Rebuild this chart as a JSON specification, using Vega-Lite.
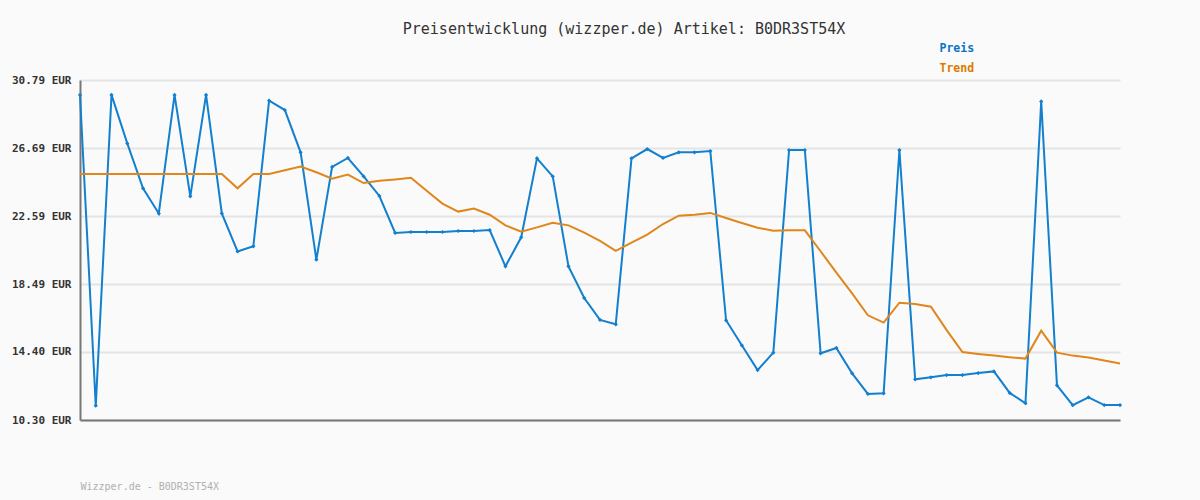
{
  "$schema": "https://vega.github.io/schema/vega-lite/v6.json",
  "width": 1040,
  "height": 340,
  "autosize": "none",
  "padding": {"left": 80, "top": 80, "right": 80, "bottom": 80},
  "background": "#fafafa",
  "title": {
    "text": "Preisentwicklung (wizzper.de) Artikel: B0DR3ST54X",
    "font": "DejaVu Sans Mono",
    "fontSize": 15,
    "fontWeight": "normal",
    "color": "#333333",
    "anchor": "middle",
    "frame": "group",
    "dx": 24,
    "offset": 6
  },
  "config": {
    "view": {"stroke": null},
    "font": "DejaVu Sans Mono"
  },
  "data": {
    "values": [
      {"i": 0, "Preis": 29.89, "Trend": 25.13},
      {"i": 1, "Preis": 11.16, "Trend": 25.13},
      {"i": 2, "Preis": 29.89, "Trend": 25.13},
      {"i": 3, "Preis": 26.97, "Trend": 25.13},
      {"i": 4, "Preis": 24.26, "Trend": 25.13},
      {"i": 5, "Preis": 22.75, "Trend": 25.13},
      {"i": 6, "Preis": 29.89, "Trend": 25.13},
      {"i": 7, "Preis": 23.78, "Trend": 25.13},
      {"i": 8, "Preis": 29.89, "Trend": 25.13},
      {"i": 9, "Preis": 22.75, "Trend": 25.13},
      {"i": 10, "Preis": 20.46, "Trend": 24.26},
      {"i": 11, "Preis": 20.77, "Trend": 25.13},
      {"i": 12, "Preis": 29.54, "Trend": 25.13},
      {"i": 13, "Preis": 28.98, "Trend": 25.35},
      {"i": 14, "Preis": 26.43, "Trend": 25.57},
      {"i": 15, "Preis": 19.96, "Trend": 25.23},
      {"i": 16, "Preis": 25.55, "Trend": 24.84},
      {"i": 17, "Preis": 26.09, "Trend": 25.09},
      {"i": 18, "Preis": 24.98, "Trend": 24.58},
      {"i": 19, "Preis": 23.80, "Trend": 24.72},
      {"i": 20, "Preis": 21.57, "Trend": 24.80},
      {"i": 21, "Preis": 21.63, "Trend": 24.90},
      {"i": 22, "Preis": 21.63, "Trend": 24.12},
      {"i": 23, "Preis": 21.63, "Trend": 23.34},
      {"i": 24, "Preis": 21.69, "Trend": 22.86},
      {"i": 25, "Preis": 21.69, "Trend": 23.04},
      {"i": 26, "Preis": 21.75, "Trend": 22.67},
      {"i": 27, "Preis": 19.56, "Trend": 22.03},
      {"i": 28, "Preis": 21.31, "Trend": 21.65},
      {"i": 29, "Preis": 26.07, "Trend": 21.91},
      {"i": 30, "Preis": 24.98, "Trend": 22.19},
      {"i": 31, "Preis": 19.56, "Trend": 22.03},
      {"i": 32, "Preis": 17.65, "Trend": 21.59},
      {"i": 33, "Preis": 16.33, "Trend": 21.09},
      {"i": 34, "Preis": 16.07, "Trend": 20.49},
      {"i": 35, "Preis": 26.07, "Trend": 20.99},
      {"i": 36, "Preis": 26.63, "Trend": 21.47},
      {"i": 37, "Preis": 26.09, "Trend": 22.11},
      {"i": 38, "Preis": 26.43, "Trend": 22.61},
      {"i": 39, "Preis": 26.43, "Trend": 22.67},
      {"i": 40, "Preis": 26.51, "Trend": 22.78},
      {"i": 41, "Preis": 16.31, "Trend": 22.47},
      {"i": 42, "Preis": 14.80, "Trend": 22.17},
      {"i": 43, "Preis": 13.31, "Trend": 21.89},
      {"i": 44, "Preis": 14.36, "Trend": 21.71},
      {"i": 45, "Preis": 26.57, "Trend": 21.73},
      {"i": 46, "Preis": 26.57, "Trend": 21.73},
      {"i": 47, "Preis": 14.32, "Trend": 20.47},
      {"i": 48, "Preis": 14.64, "Trend": 19.18},
      {"i": 49, "Preis": 13.11, "Trend": 17.93},
      {"i": 50, "Preis": 11.87, "Trend": 16.61},
      {"i": 51, "Preis": 11.91, "Trend": 16.17},
      {"i": 52, "Preis": 26.57, "Trend": 17.37},
      {"i": 53, "Preis": 12.75, "Trend": 17.29},
      {"i": 54, "Preis": 12.87, "Trend": 17.13},
      {"i": 55, "Preis": 13.01, "Trend": 15.72},
      {"i": 56, "Preis": 13.01, "Trend": 14.40},
      {"i": 57, "Preis": 13.13, "Trend": 14.28},
      {"i": 58, "Preis": 13.23, "Trend": 14.18},
      {"i": 59, "Preis": 11.93, "Trend": 14.08},
      {"i": 60, "Preis": 11.31, "Trend": 14.00},
      {"i": 61, "Preis": 29.50, "Trend": 15.68},
      {"i": 62, "Preis": 12.39, "Trend": 14.36},
      {"i": 63, "Preis": 11.19, "Trend": 14.18},
      {"i": 64, "Preis": 11.67, "Trend": 14.06},
      {"i": 65, "Preis": 11.20, "Trend": 13.88},
      {"i": 66, "Preis": 11.20, "Trend": 13.70}
    ]
  },
  "transform": [
    {"fold": ["Preis", "Trend"], "as": ["series", "value"]}
  ],
  "encoding": {
    "x": {
      "field": "i",
      "type": "quantitative",
      "scale": {"domain": [0, 66], "nice": false, "zero": false},
      "axis": {
        "title": "Wizzper.de - B0DR3ST54X",
        "titleFont": "DejaVu Sans Mono",
        "titleFontSize": 10,
        "titleFontWeight": "normal",
        "titleColor": "#b0b0b0",
        "titleAnchor": "start",
        "titleAlign": "left",
        "titlePadding": 61,
        "labels": false,
        "ticks": false,
        "grid": false,
        "domainColor": "#777777",
        "domainWidth": 2
      }
    },
    "y": {
      "field": "value",
      "type": "quantitative",
      "scale": {"domain": [10.30, 30.79], "nice": false, "zero": false},
      "axis": {
        "title": null,
        "values": [10.30, 14.40, 18.49, 22.59, 26.69, 30.79],
        "labelExpr": "format(datum.value, '.2f') + ' EUR'",
        "labelFont": "DejaVu Sans Mono",
        "labelFontSize": 11,
        "labelFontWeight": "bold",
        "labelColor": "#333333",
        "labelPadding": 9,
        "ticks": false,
        "domainColor": "#777777",
        "domainWidth": 2,
        "gridColor": "#e4e4e4",
        "gridWidth": 2
      }
    },
    "color": {
      "field": "series",
      "type": "nominal",
      "scale": {"domain": ["Preis", "Trend"], "range": ["#137fcf", "#e0861a"]},
      "legend": {
        "title": null,
        "orient": "none",
        "legendX": 848,
        "legendY": -37,
        "symbolSize": 0,
        "symbolOpacity": 0,
        "symbolStrokeWidth": 0,
        "labelOffset": 0,
        "labelFont": "DejaVu Sans Mono",
        "labelFontSize": 11.5,
        "labelFontWeight": "bold",
        "rowPadding": 7,
        "encode": {
          "labels": {
            "update": {
              "fill": [
                {"test": "datum.value === 'Preis'", "value": "#0a74c4"},
                {"value": "#d97a00"}
              ]
            }
          }
        }
      }
    }
  },
  "layer": [
    {
      "mark": {"type": "line", "strokeWidth": 2}
    },
    {
      "transform": [{"filter": "datum.series === 'Preis'"}],
      "mark": {"type": "point", "shape": "diamond", "filled": true, "size": 18, "opacity": 1}
    }
  ]
}
